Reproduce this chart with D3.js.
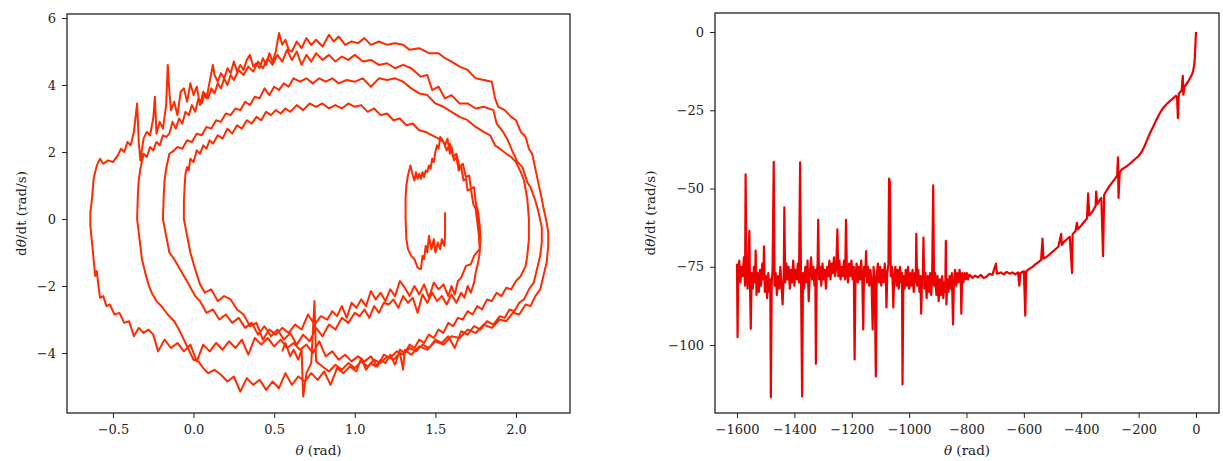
<!DOCTYPE html>
<meta charset="utf-8">
<head>
  <title>pendulum phase plots</title>
</head>
<style>
  body { margin: 0; background: #fff; }
  text { font-family: "DejaVu Serif", serif; fill: #222; }
  .domain, .tick line { stroke: #222; }
</style>

<!-- Load d3.js -->
<script src="https://d3js.org/d3.v7.min.js"></script>

<div id="my_dataviz"></div>

<script>
  // ---------- left panel: theta vs dtheta/dt, one trajectory cut in pieces ----------
  // start hook near theta = 1.3 .. 1.56
  var hookPts = [[1.56,0.2],[1.56,-0.5],[1.555,-0.8],[1.54,-0.6],[1.53,-0.9],[1.515,-0.7],[1.50,-1.0],[1.49,-0.6],
    [1.475,-0.9],[1.46,-0.5],[1.45,-1.0],[1.44,-0.8],[1.43,-1.2],[1.42,-1.1],[1.41,-1.5],[1.39,-1.45],[1.37,-1.2],
    [1.35,-1.1],[1.33,-0.9],[1.32,-0.6],[1.315,0.0],[1.315,0.6],[1.32,1.0],[1.33,1.3],[1.345,1.6],[1.36,1.3],
    [1.37,1.15],[1.38,1.4],[1.39,1.2],[1.40,1.35],[1.41,1.2],[1.42,1.4],[1.43,1.25],[1.44,1.45],[1.45,1.4],
    [1.46,1.6],[1.47,1.5],[1.48,1.8],[1.49,1.7],[1.50,2.0],[1.51,2.2],[1.52,2.1],[1.53,2.45],[1.545,2.35]];

  var descentX = [[1.56,2.2],[1.575,2.4],[1.59,1.95],[1.60,2.15],[1.615,1.75],[1.63,1.85],[1.645,1.45],[1.66,1.55],
    [1.675,1.15],[1.69,1.2],[1.70,0.85],[1.72,0.9],[1.735,0.45],[1.75,0.3],[1.76,-0.1],[1.77,-0.5],[1.775,-0.9],
    [1.74,-1.1],[1.72,-1.35],[1.69,-1.4],[1.66,-1.75],[1.64,-1.85]];

  var bottom1 = [[1.62,-2.25],[1.60,-2.0],[1.58,-2.3],[1.55,-1.95],[1.52,-2.1],[1.49,-1.9],[1.46,-2.35],[1.43,-1.95],
    [1.40,-2.25],[1.37,-2.0],[1.34,-2.3],[1.31,-2.05],[1.28,-1.85],[1.25,-2.3],[1.22,-2.1],[1.19,-2.45],[1.16,-2.2],
    [1.13,-2.4],[1.10,-2.15],[1.07,-2.6],[1.04,-2.4],[1.01,-2.65],[0.98,-2.5],[0.95,-2.95],[0.92,-2.6],[0.89,-2.9],
    [0.86,-2.75],[0.83,-3.0],[0.79,-2.9],[0.75,-3.15],[0.71,-2.85],[0.67,-3.3],[0.63,-3.15],[0.59,-3.4],[0.55,-3.25],
    [0.51,-3.45],[0.47,-3.3],[0.43,-3.6],[0.39,-3.1],[0.35,-3.2],[0.31,-2.85],[0.27,-2.7],[0.23,-2.4],[0.19,-2.3],
    [0.15,-2.45],[0.11,-2.1],[0.07,-2.2],[0.04,-1.95],[0.01,-1.5],[-0.02,-1.0],[-0.04,-0.5],[-0.06,0.0]];

  var topA = [[-0.06,0.5],[-0.055,1.0],[-0.05,1.35],[-0.04,1.55],[-0.03,1.45],[-0.02,1.8],[0.0,1.7],[0.02,2.05],
    [0.04,1.95],[0.06,2.2],[0.08,2.1],[0.10,2.35],[0.12,2.25],[0.15,2.5],[0.18,2.4],[0.21,2.7],[0.24,2.55],
    [0.27,2.8],[0.30,2.7],[0.33,2.95],[0.36,2.85],[0.39,3.05],[0.42,2.95],[0.45,3.2],[0.48,3.1],[0.51,3.25],
    [0.54,3.15],[0.57,3.3],[0.60,3.2],[0.64,3.4],[0.68,3.25],[0.72,3.45],[0.76,3.35],[0.80,3.45],[0.84,3.3],
    [0.88,3.4],[0.92,3.3],[0.96,3.45],[1.00,3.35],[1.04,3.4],[1.08,3.2],[1.12,3.3],[1.16,3.1],[1.20,3.15],
    [1.24,2.95],[1.28,3.0],[1.32,2.8],[1.36,2.85],[1.40,2.65],[1.44,2.6],[1.48,2.5],[1.52,2.4],[1.55,2.3]];

  var descentY = [[1.57,2.05],[1.59,2.25],[1.61,1.85],[1.63,1.95],[1.65,1.55],[1.67,1.65],[1.69,1.25],[1.71,1.3],
    [1.72,0.9],[1.74,0.95],[1.75,0.5],[1.765,0.2],[1.775,-0.2],[1.78,-0.6],[1.775,-1.0],[1.765,-1.3],[1.75,-1.6],
    [1.74,-1.9],[1.72,-2.2],[1.70,-2.0],[1.68,-2.35]];

  var bottom2 = [[1.66,-2.2],[1.63,-2.5],[1.60,-2.25],[1.57,-2.55],[1.54,-2.3],[1.51,-2.45],[1.48,-2.2],[1.45,-2.5],
    [1.42,-2.25],[1.39,-2.8],[1.36,-2.35],[1.33,-2.5],[1.30,-2.3],[1.27,-2.65],[1.24,-2.4],[1.21,-2.55],[1.18,-2.5],
    [1.15,-2.8],[1.12,-2.6],[1.09,-2.95],[1.06,-2.7],[1.03,-2.9],[1.00,-2.8],[0.96,-3.1],[0.92,-2.95],[0.88,-3.3],
    [0.84,-3.15],[0.80,-3.5],[0.76,-3.25],[0.72,-3.65],[0.68,-3.45],[0.64,-3.75],[0.60,-3.4],[0.56,-3.6],
    [0.52,-3.3],[0.48,-3.5],[0.44,-3.2],[0.40,-3.45],[0.36,-3.1],[0.32,-3.25],[0.28,-2.95],[0.24,-3.1],[0.20,-2.85],
    [0.16,-3.0],[0.12,-2.7],[0.08,-2.8],[0.04,-2.45],[0.01,-2.3],[-0.03,-1.95],[-0.06,-1.7],[-0.09,-1.45],
    [-0.12,-1.2],[-0.15,-1.0],[-0.17,-0.5],[-0.19,0.0]];

  var topB = [[-0.185,0.7],[-0.18,1.15],[-0.17,1.5],[-0.15,1.95],[-0.12,2.05],[-0.10,2.15],[-0.07,2.1],[-0.04,2.35],
    [-0.01,2.3],[0.02,2.55],[0.05,2.5],[0.08,2.75],[0.11,2.7],[0.14,2.95],[0.17,2.9],[0.20,3.15],[0.23,3.1],
    [0.26,3.3],[0.29,3.25],[0.32,3.5],[0.35,3.4],[0.38,3.65],[0.41,3.6],[0.44,3.9],[0.47,3.7],[0.50,3.95],
    [0.53,3.85],[0.56,4.05],[0.59,3.95],[0.62,4.2],[0.66,4.1],[0.70,4.2],[0.74,4.05],[0.78,4.2],[0.82,4.1],
    [0.86,4.2],[0.90,4.05],[0.95,4.15],[1.00,4.1],[1.05,4.2],[1.10,3.95],[1.15,4.2],[1.20,4.15],[1.25,4.2],
    [1.30,4.1],[1.35,3.9],[1.40,3.75],[1.45,3.7],[1.50,3.45],[1.55,3.35],[1.60,3.2],[1.65,3.05],[1.70,2.95],
    [1.75,2.75],[1.80,2.6],[1.84,2.5],[1.87,2.2],[1.90,2.1],[1.94,1.95],[1.97,1.85],[2.00,1.7],[2.03,1.4],
    [2.05,1.15],[2.07,0.6],[2.08,0.0],[2.08,-0.6],[2.07,-1.1]];

  var bottom3 = [[2.06,-1.4],[2.03,-1.7],[2.00,-1.85],[1.97,-2.1],[1.94,-2.05],[1.91,-2.3],[1.88,-2.2],[1.85,-2.45],
    [1.82,-2.4],[1.79,-2.7],[1.76,-2.6],[1.73,-2.85],[1.70,-2.75],[1.67,-3.0],[1.64,-2.95],[1.61,-3.2],[1.58,-3.1],
    [1.55,-3.4],[1.52,-3.3],[1.49,-3.55],[1.46,-3.45],[1.43,-3.7],[1.40,-3.6],[1.37,-3.85],[1.34,-3.75],[1.31,-4.0],
    [1.28,-3.9],[1.25,-4.35],[1.22,-4.05],[1.19,-4.3],[1.16,-4.2],[1.13,-4.4],[1.10,-4.3],[1.07,-4.5],[1.04,-4.15],
    [1.01,-4.55],[0.97,-4.4],[0.93,-4.6],[0.89,-4.45],[0.85,-4.95],[0.81,-4.55],[0.77,-4.8],[0.73,-4.6],[0.69,-4.85],
    [0.65,-4.7],[0.61,-4.95],[0.57,-4.6],[0.53,-5.05],[0.49,-4.85],[0.45,-5.1],[0.41,-4.8],[0.37,-4.95],[0.33,-4.75],
    [0.29,-5.15],[0.25,-4.7],[0.21,-4.85],[0.17,-4.65],[0.13,-4.5],[0.09,-4.6],[0.06,-4.45],[0.03,-4.25],[0.0,-4.2],
    [-0.03,-3.9],[-0.06,-3.6],[-0.09,-3.3],[-0.12,-3.05],[-0.16,-2.85],[-0.20,-2.6],[-0.23,-2.45],[-0.26,-2.2],
    [-0.28,-1.95],[-0.30,-1.6],[-0.32,-1.2],[-0.33,-0.8],[-0.34,-0.4],[-0.35,0.0]];

  var topC = [[-0.345,0.8],[-0.34,1.15],[-0.33,1.5],[-0.31,1.95],[-0.29,1.85],[-0.27,2.15],[-0.25,2.05],[-0.23,2.3],
    [-0.21,2.2],[-0.19,2.5],[-0.17,2.45],[-0.15,2.55],[-0.13,2.9],[-0.11,2.7],[-0.09,3.0],[-0.07,2.85],[-0.05,3.2],
    [-0.03,3.1],[-0.01,3.4],[0.01,3.2],[0.03,3.6],[0.05,3.45],[0.07,3.75],[0.09,3.6],[0.11,3.9],[0.13,3.75],
    [0.15,4.05],[0.17,3.9],[0.19,4.2],[0.21,4.0],[0.23,4.3],[0.25,4.15],[0.28,4.45],[0.31,4.3],[0.34,4.55],
    [0.37,4.4],[0.40,4.7],[0.43,4.5],[0.46,4.8],[0.49,4.6],[0.52,4.9],[0.55,4.7],[0.58,5.05],[0.61,4.75],
    [0.64,5.0],[0.67,4.6],[0.70,4.9],[0.73,4.7],[0.76,4.95],[0.80,4.75],[0.84,4.9],[0.88,4.7],[0.92,4.85],
    [0.96,4.75],[1.00,4.9],[1.05,4.7],[1.10,4.75],[1.15,4.6],[1.20,4.65],[1.25,4.5],[1.30,4.6],[1.35,4.5],
    [1.41,4.25],[1.45,4.3],[1.48,3.85],[1.52,3.95],[1.56,3.6],[1.60,3.7],[1.65,3.45],[1.70,3.45],[1.75,3.3],
    [1.80,3.35],[1.86,3.25],[1.88,2.85],[1.92,2.6],[1.95,2.35],[1.98,2.0],[2.01,1.7],[2.04,1.55],[2.07,1.1],
    [2.09,0.95],[2.12,0.55],[2.14,0.2],[2.16,-0.25]];

  var bottom4 = [[2.16,-0.7],[2.15,-1.1],[2.13,-1.5],[2.11,-1.9],[2.08,-2.1],[2.05,-2.4],[2.02,-2.5],[1.99,-2.75],
    [1.96,-2.7],[1.93,-2.95],[1.90,-2.9],[1.86,-3.15],[1.82,-3.05],[1.78,-3.3],[1.74,-3.2],[1.70,-3.45],[1.66,-3.35],
    [1.62,-3.85],[1.58,-3.5],[1.54,-3.7],[1.50,-3.6],[1.46,-3.85],[1.42,-3.75],[1.38,-3.95],[1.34,-3.85],[1.30,-4.05],
    [1.26,-3.95],[1.22,-4.15],[1.18,-4.05],[1.14,-4.4],[1.10,-4.1],[1.06,-4.25],[1.02,-4.1],[0.98,-4.25],[0.94,-4.05],
    [0.90,-4.2],[0.86,-3.95],[0.82,-4.1],[0.78,-3.65],[0.74,-4.0],[0.70,-3.75],[0.66,-3.9],[0.62,-3.7],[0.58,-3.85],
    [0.54,-3.6],[0.50,-3.8],[0.46,-3.55],[0.42,-3.75],[0.38,-3.55],[0.34,-4.05],[0.30,-3.6],[0.26,-3.85],[0.22,-3.65],
    [0.18,-3.9],[0.14,-3.7],[0.10,-3.95],[0.06,-3.75],[0.02,-4.25],[-0.02,-3.75],[-0.06,-3.95],[-0.10,-3.7],
    [-0.14,-3.85],[-0.18,-3.6],[-0.22,-3.95],[-0.25,-3.45],[-0.28,-3.3],[-0.31,-3.4],[-0.34,-3.25],[-0.37,-3.5],
    [-0.40,-3.05],[-0.43,-3.1],[-0.46,-2.8],[-0.49,-2.85],[-0.52,-2.55],[-0.54,-2.6],[-0.56,-2.3],[-0.58,-2.35],
    [-0.59,-2.0],[-0.60,-1.55],[-0.61,-1.7],[-0.62,-1.2],[-0.63,-0.7],[-0.64,-0.2],[-0.64,0.2]];

  var topD = [[-0.63,0.6],[-0.62,1.2],[-0.60,1.6],[-0.58,1.8],[-0.56,1.65],[-0.53,1.75],[-0.50,1.7],[-0.47,1.9],
    [-0.45,2.1],[-0.43,2.0],[-0.41,2.3],[-0.39,2.2],[-0.37,2.6],[-0.35,3.45],[-0.34,2.3],[-0.33,1.75],[-0.31,2.4],
    [-0.29,2.6],[-0.27,2.5],[-0.25,3.0],[-0.24,3.65],[-0.23,2.55],[-0.21,2.9],[-0.19,2.7],[-0.17,3.4],[-0.16,4.6],
    [-0.15,3.8],[-0.14,3.25],[-0.12,3.5],[-0.10,3.1],[-0.08,3.8],[-0.06,3.9],[-0.04,3.5],[-0.02,4.05],[0.0,3.7],
    [0.02,3.95],[0.04,3.4],[0.06,3.8],[0.08,3.6],[0.10,4.1],[0.12,4.6],[0.13,4.3],[0.15,4.1],[0.17,4.35],[0.19,4.2],
    [0.21,4.5],[0.23,4.35],[0.25,4.7],[0.27,4.4],[0.29,4.6],[0.31,4.45],[0.33,4.75],[0.35,4.9],[0.37,4.55],
    [0.39,4.65],[0.41,4.5],[0.43,4.8],[0.45,4.6],[0.47,4.95],[0.49,4.7],[0.51,5.0],[0.53,5.55],[0.55,5.2],
    [0.57,5.35],[0.59,5.05],[0.61,5.0],[0.64,5.3],[0.67,5.1],[0.70,5.4],[0.73,5.2],[0.76,5.35],[0.80,5.15],
    [0.84,5.5],[0.87,5.3],[0.90,5.45],[0.94,5.2],[0.98,5.3],[1.02,5.25],[1.06,5.4],[1.10,5.2],[1.15,5.3],
    [1.20,5.2],[1.25,5.25],[1.30,5.2],[1.34,5.05],[1.40,5.1],[1.46,4.95],[1.52,4.95],[1.56,4.8],[1.60,4.7],
    [1.65,4.55],[1.70,4.45],[1.75,4.2],[1.80,4.15],[1.85,4.1],[1.87,3.6],[1.89,3.35],[1.93,3.25],[1.97,3.05],
    [2.00,2.95],[2.03,2.6],[2.06,2.45],[2.08,2.1],[2.10,1.95],[2.12,1.5],[2.14,1.05],[2.16,0.6],[2.17,0.35],
    [2.19,-0.1],[2.20,-0.4]];

  var bottom5 = [[2.20,-0.8],[2.19,-1.3],[2.17,-1.7],[2.15,-2.1],[2.12,-2.3],[2.09,-2.6],[2.06,-2.55],[2.02,-2.85],
    [1.98,-2.8],[1.94,-3.05],[1.90,-3.0],[1.85,-3.25],[1.80,-3.15],[1.75,-3.4],[1.70,-3.3],[1.65,-3.55],[1.60,-3.5],
    [1.55,-3.75],[1.50,-3.65],[1.45,-3.9],[1.40,-3.8],[1.35,-4.05],[1.31,-3.9],[1.30,-4.5],[1.28,-4.0],[1.24,-4.2],
    [1.20,-4.1],[1.16,-4.3],[1.12,-4.2],[1.08,-4.4],[1.04,-4.25],[1.00,-4.45],[0.96,-4.3],[0.92,-4.5],[0.88,-4.35],
    [0.84,-4.55],[0.80,-4.4],[0.76,-4.25],[0.75,-2.45],[0.73,-4.3],[0.70,-4.6],[0.68,-5.3],[0.67,-3.9],[0.65,-4.2],
    [0.62,-3.9],[0.60,-4.1],[0.57,-3.7],[0.55,-3.95]];

  var leftTrajectory = [].concat(hookPts, descentX, bottom1, topA, descentY, bottom2, topB,
    bottom3, topC, bottom4, topD, bottom5);

  // ---------- right panel: long run, theta from -1600 up to 0 ----------
  var rightNoisy = [[-1600,-74],[-1598,-97.5],[-1596,-76],[-1592,-73],[-1588,-80],[-1584,-75],[-1580,-78],
    [-1576,-72],[-1572,-81],[-1570,-45.5],[-1567,-76],[-1563,-82],[-1560,-74],[-1557,-63.5],[-1555,-79],
    [-1552,-94.8],[-1549,-77],[-1545,-82],[-1541,-75],[-1537,-80],[-1535,-69.8],[-1532,-84],[-1528,-77],
    [-1524,-83],[-1520,-76],[-1516,-81],[-1512,-74],[-1508,-79],[-1506,-68.5],[-1503,-83],[-1499,-78],
    [-1495,-85],[-1491,-77],[-1487,-83],[-1484,-79],[-1482,-116.7],[-1479,-80],[-1476,-76],[-1472,-41.5],
    [-1469,-81],[-1465,-77],[-1461,-84],[-1457,-78],[-1453,-82],[-1449,-75],[-1445,-81],[-1441,-87],[-1437,-77],
    [-1435,-56],[-1432,-80],[-1428,-74],[-1424,-79],[-1420,-75],[-1416,-82],[-1412,-76],[-1408,-80],[-1404,-73],
    [-1400,-81],[-1396,-76],[-1392,-79],[-1388,-74],[-1384,-80],[-1380,-41.6],[-1377,-78],[-1373,-116.4],
    [-1370,-77],[-1366,-82],[-1362,-75],[-1358,-80],[-1354,-73],[-1350,-86],[-1346,-77],[-1342,-72],[-1338,-79],
    [-1334,-75],[-1330,-81],[-1327,-76],[-1325,-106],[-1322,-77],[-1319,-74],[-1317,-60],[-1314,-79],[-1310,-75],
    [-1306,-81],[-1302,-74],[-1298,-79],[-1294,-76],[-1290,-82],[-1286,-75],[-1282,-78],[-1278,-73],[-1274,-79],
    [-1270,-74],[-1266,-77],[-1262,-72],[-1258,-78],[-1254,-75],[-1250,-63],[-1247,-78],[-1243,-73],[-1239,-79],
    [-1235,-75],[-1231,-78],[-1227,-73],[-1223,-79],[-1220,-60],[-1217,-76],[-1213,-80],[-1209,-74],[-1205,-78],
    [-1201,-73],[-1197,-79],[-1193,-75],[-1190,-104.6],[-1187,-78],[-1183,-74],[-1179,-80],[-1175,-75],
    [-1171,-79],[-1167,-73],[-1163,-80],[-1160,-95],[-1157,-75],[-1153,-78],[-1150,-70],[-1147,-80],[-1143,-75],
    [-1139,-81],[-1135,-76],[-1131,-80],[-1127,-95],[-1124,-75],[-1120,-79],[-1116,-110],[-1113,-78],[-1109,-74],
    [-1105,-80],[-1101,-75],[-1097,-81],[-1093,-76],[-1089,-80],[-1085,-74],[-1081,-79],[-1079,-88],[-1076,-77],
    [-1072,-74],[-1070,-46.8],[-1067,-48],[-1064,-78],[-1060,-75],[-1057,-81],[-1055,-88],[-1052,-78],[-1048,-75],
    [-1044,-81],[-1040,-76],[-1036,-82],[-1032,-75],[-1028,-80],[-1025,-77],[-1023,-112.6],[-1020,-78],
    [-1016,-82],[-1012,-76],[-1008,-81],[-1004,-75],[-1000,-82],[-996,-77],[-992,-81],[-988,-76],[-984,-83],
    [-980,-77],[-977,-80],[-975,-64.5],[-972,-81],[-968,-76],[-964,-83],[-961,-78],[-958,-90],[-955,-79],
    [-952,-77],[-950,-65.7],[-947,-82],[-943,-77],[-939,-85],[-935,-78],[-931,-83],[-927,-77],[-923,-84],
    [-920,-79],[-916,-49],[-913,-81],[-909,-77],[-905,-84],[-901,-78],[-897,-86],[-893,-79],[-889,-84],[-885,-78],
    [-881,-85],[-877,-80],[-874,-83],[-872,-66.7],[-870,-87],[-867,-79],[-863,-83],[-859,-78],[-855,-82],
    [-851,-77],[-847,-93.4],[-844,-80],[-840,-76],[-836,-81],[-832,-77],[-828,-80],[-824,-76],[-820,-80],
    [-818,-90],[-815,-77],[-811,-80],[-807,-77],[-803,-79],[-799,-77],[-795,-79]];

  var rightRise = [[-790,-77.5],[-780,-78.5],[-770,-77.8],[-760,-78.4],[-750,-77.6],[-740,-78.6],[-730,-78.2],
    [-720,-77.2],[-710,-77.6],[-697,-74],[-694,-77.2],[-680,-76.8],[-670,-77.4],[-660,-76.6],[-650,-77.2],
    [-640,-76.8],[-630,-77.4],[-620,-76.8],[-616,-81],[-612,-77],[-600,-76.4],[-595,-90.6],[-592,-76.5],
    [-586,-76],[-580,-75.6],[-570,-75],[-560,-74.2],[-550,-73.6],[-540,-72.8],[-535,-66],[-532,-72.4],
    [-520,-71.8],[-510,-71],[-500,-70.2],[-490,-69.4],[-480,-68.6],[-470,-64.5],[-468,-68],[-460,-67],
    [-450,-66.2],[-440,-65.4],[-432,-77],[-430,-64.6],[-420,-63.6],[-415,-61],[-412,-63],[-400,-61.8],
    [-390,-60.6],[-380,-59.6],[-376,-51.5],[-372,-58.6],[-360,-57.2],[-350,-55.6],[-348,-51],[-344,-55],
    [-336,-53.8],[-330,-53],[-324,-71.6],[-320,-52],[-310,-50.4],[-300,-49],[-290,-47.8],[-280,-46.6],
    [-275,-46],[-272,-40],[-270,-53],[-266,-45],[-260,-44],[-250,-43.4],[-240,-42.8],[-230,-42],[-220,-41.2],
    [-210,-40.4],[-200,-39.6],[-190,-38.4],[-180,-36.6],[-170,-34.4],[-160,-32.2],[-150,-30.4],[-140,-28.4],
    [-130,-26.6],[-120,-25],[-110,-23.8],[-100,-22.8],[-90,-22],[-80,-21.2],[-70,-20.4],[-66,-20.8],[-63,-27.5],
    [-60,-19.8],[-50,-18.6],[-46,-14],[-44,-20],[-40,-17.4],[-30,-16.2],[-20,-14.6],[-14,-13.6],[-10,-12.4],
    [-6,-10.5],[-4,-8],[-2,-4],[0,0]];

  var rightTrajectory = rightNoisy.concat(rightRise);

  // tick values
  var leftXTicks = [-0.5, 0.0, 0.5, 1.0, 1.5, 2.0];
  var leftYTicks = [-4, -2, 0, 2, 4, 6];
  var rightXTicks = [-1600, -1400, -1200, -1000, -800, -600, -400, -200, 0];
  var rightYTicks = [-100, -75, -50, -25, 0];

  // append the svg object to the body of the page
  var svg = d3.select("#my_dataviz")
    .append("svg")
    .attr("width", 1223)
    .attr("height", 461);

  svg.append("rect").attr("width", 1223).attr("height", 461).attr("fill", "#fff");

  function drawPanel(p) {
    var width = p.right - p.left,
      height = p.bottom - p.top;

    var g = svg.append("g")
      .attr("transform", "translate(" + p.left + "," + p.top + ")");

    var x = d3.scaleLinear().domain(p.xDomain).range([0, width]);
    var y = d3.scaleLinear().domain(p.yDomain).range([height, 0]);

    g.append("clipPath").attr("id", p.id + "clip")
      .append("rect").attr("width", width).attr("height", height);

    // the trajectory
    g.append("path")
      .datum(p.data)
      .attr("clip-path", "url(#" + p.id + "clip)")
      .attr("fill", "none")
      .attr("stroke", p.color)
      .attr("stroke-width", p.lineWidth)
      .attr("stroke-linejoin", "round")
      .attr("d", d3.line()
        .x(function(d) { return x(d[0]); })
        .y(function(d) { return y(d[1]); }));

    // Add X axis
    var xAxis = g.append("g")
      .attr("transform", "translate(0," + height + ")")
      .call(d3.axisBottom(x).tickValues(p.xTicks).tickFormat(p.xFormat).tickSizeOuter(0).tickSize(5).tickPadding(7));

    // Add Y axis
    var yAxis = g.append("g")
      .call(d3.axisLeft(y).tickValues(p.yTicks).tickFormat(p.yFormat).tickSizeOuter(0).tickSize(5).tickPadding(6));

    [xAxis, yAxis].forEach(function(a) {
      a.selectAll("text").style("font-family", "'DejaVu Serif', serif").style("font-size", "13px").attr("fill", "#222");
      a.select(".domain").remove();
      a.selectAll(".tick line").attr("stroke", "#222").attr("stroke-width", 1);
    });

    // frame
    g.append("rect")
      .attr("width", width)
      .attr("height", height)
      .attr("fill", "none")
      .attr("stroke", "#222")
      .attr("stroke-width", 1.3);

    // text label for the x axis
    var xl = svg.append("text")
      .attr("x", p.left + width / 2)
      .attr("y", 455)
      .style("text-anchor", "middle")
      .style("font-size", "13.5px");
    xl.append("tspan").style("font-style", "italic").text("θ");
    xl.append("tspan").text(" (rad)");

    // text label for the y axis
    var yl = svg.append("text")
      .attr("transform", "translate(" + p.yLabelX + "," + (p.top + height / 2) + ") rotate(-90)")
      .attr("dy", "0.35em")
      .style("text-anchor", "middle")
      .style("font-size", "13.5px");
    yl.append("tspan").text("d");
    yl.append("tspan").style("font-style", "italic").text("θ");
    yl.append("tspan").text("/dt (rad/s)");
  }

  drawPanel({
    id: "left", left: 67, right: 570, top: 14, bottom: 413,
    xDomain: [-0.785, 2.335], yDomain: [-5.79, 6.12],
    xTicks: leftXTicks, yTicks: leftYTicks,
    xFormat: d3.format(".1f"), yFormat: d3.format("d"),
    data: leftTrajectory, color: "#ff2a00", lineWidth: 2, yLabelX: 21
  });

  drawPanel({
    id: "right", left: 715, right: 1219, top: 13, bottom: 413,
    xDomain: [-1676.7, 80.2], yDomain: [-121.7, 6.07],
    xTicks: rightXTicks, yTicks: rightYTicks,
    xFormat: d3.format("d"), yFormat: d3.format("d"),
    data: rightTrajectory, color: "#ee0000", lineWidth: 2.2, yLabelX: 650
  });
</script>
